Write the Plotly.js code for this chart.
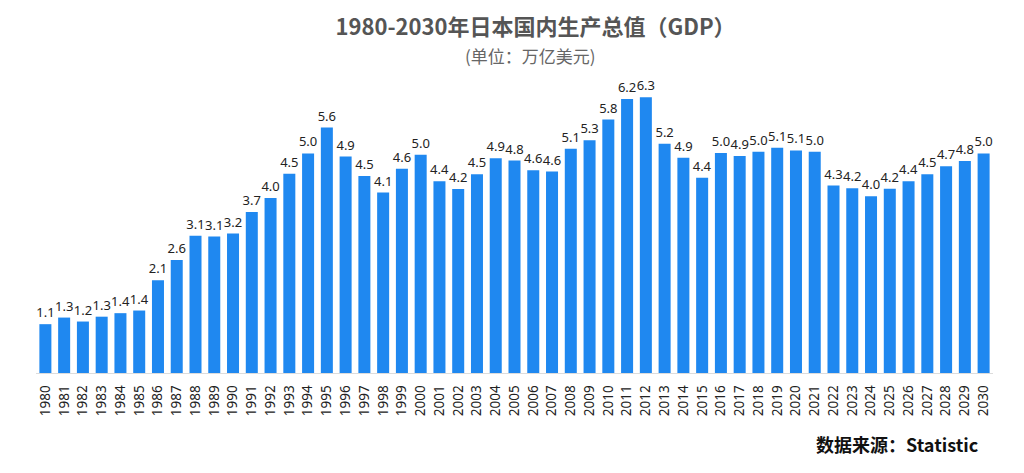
<!DOCTYPE html>
<html>
<head>
<meta charset="utf-8">
<script src="https://cdn.plot.ly/plotly-3.0.1.min.js"></script>
<style>html,body{margin:0;padding:0;background:#fff;}#chart{width:1024px;height:473px;}</style>
</head>
<body>
<div id="chart"></div>
<script>
const years = ['1980','1981','1982','1983','1984','1985','1986','1987','1988','1989','1990','1991','1992','1993','1994','1995','1996','1997','1998','1999','2000','2001','2002','2003','2004','2005','2006','2007','2008','2009','2010','2011','2012','2013','2014','2015','2016','2017','2018','2019','2020','2021','2022','2023','2024','2025','2026','2027','2028','2029','2030'];
const gdp = [1.11,1.26,1.17,1.28,1.36,1.42,2.11,2.57,3.12,3.10,3.17,3.66,3.98,4.53,4.99,5.58,4.92,4.48,4.10,4.64,4.96,4.36,4.18,4.52,4.88,4.83,4.61,4.58,5.10,5.29,5.76,6.23,6.27,5.21,4.89,4.44,5.00,4.93,5.03,5.12,5.06,5.03,4.26,4.20,4.02,4.19,4.36,4.52,4.70,4.82,4.99];
const titleText = '1980-2030年日本国内生产总值（GDP）';
const subtitleText = '(单位：万亿美元)';
const sourceText = '数据来源：Statistic';

const cjk = '"Noto Sans CJK SC", "Noto Sans", sans-serif';
const num = '"Noto Sans", "Open Sans", sans-serif';

const trace = {
  type: 'bar',
  x: years,
  y: gdp,
  marker: {color: '#1f88f0'},
  texttemplate: '%{y:.1f}',
  textposition: 'outside',
  constraintext: 'none',
  textfont: {family: num, size: 13, color: '#222'},
  cliponaxis: false,
  hoverinfo: 'x+y'
};

const layout = {
  width: 1024, height: 473,
  margin: {l: 36, r: 31, t: 80, b: 100},
  paper_bgcolor: '#fff', plot_bgcolor: '#fff',
  bargap: 0.36,
  showlegend: false,
  title: {
    text: '<b>' + titleText + '</b>',
    font: {family: cjk, size: 22, color: '#555'},
    x: 0.523, xanchor: 'center', xref: 'container',
    y: 0.943, yanchor: 'middle', yref: 'container'
  },
  xaxis: {
    type: 'category',
    tickangle: -90,
    tickfont: {family: num, size: 13.5, color: '#222'},
    showgrid: false,
    showline: true, linecolor: '#dcdcdc', linewidth: 1,
    ticks: 'outside', ticklen: 6, tickcolor: 'rgba(0,0,0,0)'
  },
  yaxis: {
    range: [0, 6.66],
    visible: false,
    showgrid: false, zeroline: false
  },
  annotations: [
    {
      text: subtitleText,
      xref: 'paper', yref: 'paper',
      x: (530 - 36) / 957, y: (373 - 56) / 293,
      xanchor: 'center', yanchor: 'middle',
      showarrow: false,
      font: {family: cjk, size: 17, color: '#666'}
    },
    {
      text: '<b>' + sourceText + '</b>',
      xref: 'paper', yref: 'paper',
      x: (980 - 36) / 957, y: (373 - 444) / 293,
      xanchor: 'right', yanchor: 'middle',
      showarrow: false,
      font: {family: cjk, size: 18, color: '#111'}
    }
  ]
};

Plotly.newPlot('chart', [trace], layout, {displayModeBar: false, staticPlot: true});
</script>
</body>
</html>
